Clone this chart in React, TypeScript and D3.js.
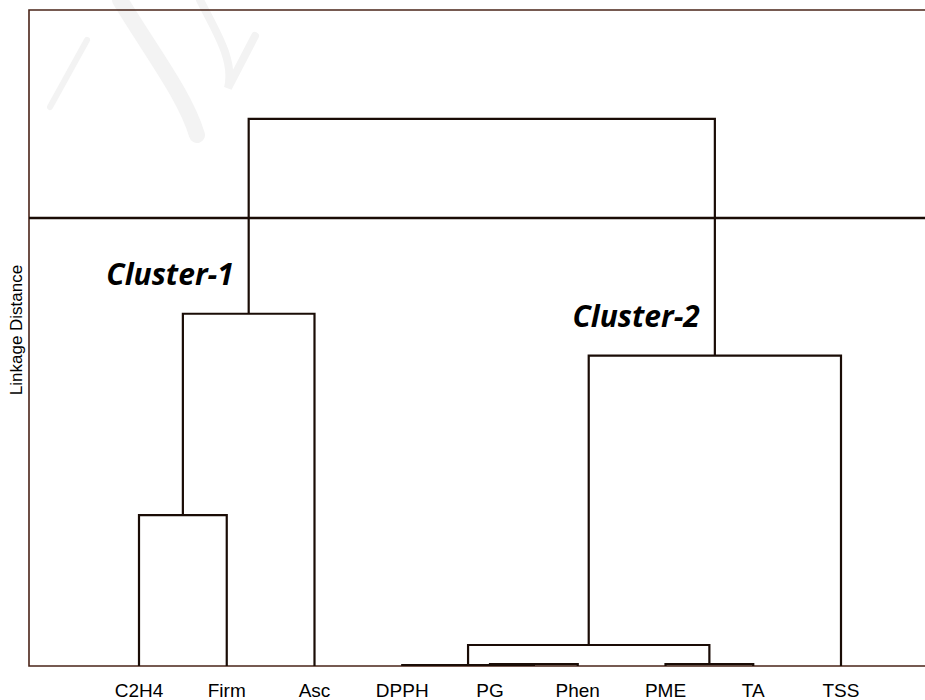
import React from "react";
import * as d3 from "d3";

// ---- data ----
const leaves = ["C2H4", "Firm", "Asc", "DPPH", "PG", "Phen", "PME", "TA", "TSS"];
// merges: node ids continue after leaves (9, 10, ...)
const mergeLeft = [0, 9, 4, 3, 6, 12, 14, 10];
const mergeRight = [1, 2, 5, 11, 7, 13, 8, 15];
const mergeHeight = [23.0, 53.7, 0.3, 0.15, 0.3, 3.2, 47.3, 83.4];
const cutHeight = 68.3;
const clusterLabels = ["Cluster-1", "Cluster-2"];
const clusterLabelNodes = [10, 15];
const yDomain = [0, 100];
const yAxisTitle = "Linkage Distance";

const W = 925;
const H = 700;
const left = 29;
const top = 10;
const bottom = 666;

export default function App() {
  const x = d3.scalePoint<string>().domain(leaves).range([139, 841]);
  const y = d3.scaleLinear().domain(yDomain).range([bottom, top]);

  const nodeX: number[] = leaves.map((l) => x(l) as number);
  const nodeH: number[] = leaves.map(() => 0);
  const paths: string[] = [];
  mergeLeft.forEach((a, i) => {
    const b = mergeRight[i];
    const h = mergeHeight[i];
    const xa = nodeX[a];
    const xb = nodeX[b];
    const p = d3.path();
    p.moveTo(xa, y(nodeH[a]));
    p.lineTo(xa, y(h));
    p.lineTo(xb, y(h));
    p.lineTo(xb, y(nodeH[b]));
    paths.push(p.toString());
    nodeX.push((xa + xb) / 2);
    nodeH.push(h);
  });

  const stroke = "#1a0c06";
  return (
    <svg
      width={W}
      height={H}
      style={{ position: "absolute", left: 0, top: 0, background: "#fff" }}
    >
      {/* faint watermark strokes */}
      <g fill="none" stroke="#f3f3f3" strokeLinecap="round">
        <path d="M50,107 L87,40" strokeWidth={6} />
        <path d="M120,0 C150,50 185,95 197,135" strokeWidth={16} />
        <path d="M200,0 C215,30 235,60 228,88 L255,36" strokeWidth={8} />
      </g>
      {/* frame */}
      <path
        d={`M${W},${top}H${left}V${bottom}H${W}`}
        fill="none"
        stroke="#4a2418"
        strokeWidth={1.6}
      />
      {/* tree */}
      {paths.map((d, i) => (
        <path key={i} d={d} fill="none" stroke={stroke} strokeWidth={2.2} />
      ))}
      {/* cut line */}
      <line
        x1={left}
        x2={W}
        y1={y(cutHeight)}
        y2={y(cutHeight)}
        stroke={stroke}
        strokeWidth={2.6}
      />
      {/* leaf labels */}
      {leaves.map((l) => (
        <text
          key={l}
          x={x(l)}
          y={697}
          textAnchor="middle"
          fontFamily="'Liberation Sans', Arial, sans-serif"
          fontSize={19}
          fill="#000"
        >
          {l}
        </text>
      ))}
      {/* y title */}
      <text
        transform={`translate(22, 330) rotate(-90)`}
        textAnchor="middle"
        fontFamily="'Liberation Sans', Arial, sans-serif"
        fontSize={17}
        fill="#000"
      >
        {yAxisTitle}
      </text>
      {/* cluster labels */}
      {clusterLabels.map((c, i) => {
        const n = clusterLabelNodes[i];
        return (
          <text
            key={c}
            x={nodeX[n] - 15}
            y={y(nodeH[n]) - 29}
            textAnchor="end"
            fontFamily="'Open Sans', sans-serif"
            fontWeight="bold"
            fontStyle="italic"
            fontSize={30}
            fill="#000"
          >
            {c}
          </text>
        );
      })}
    </svg>
  );
}
